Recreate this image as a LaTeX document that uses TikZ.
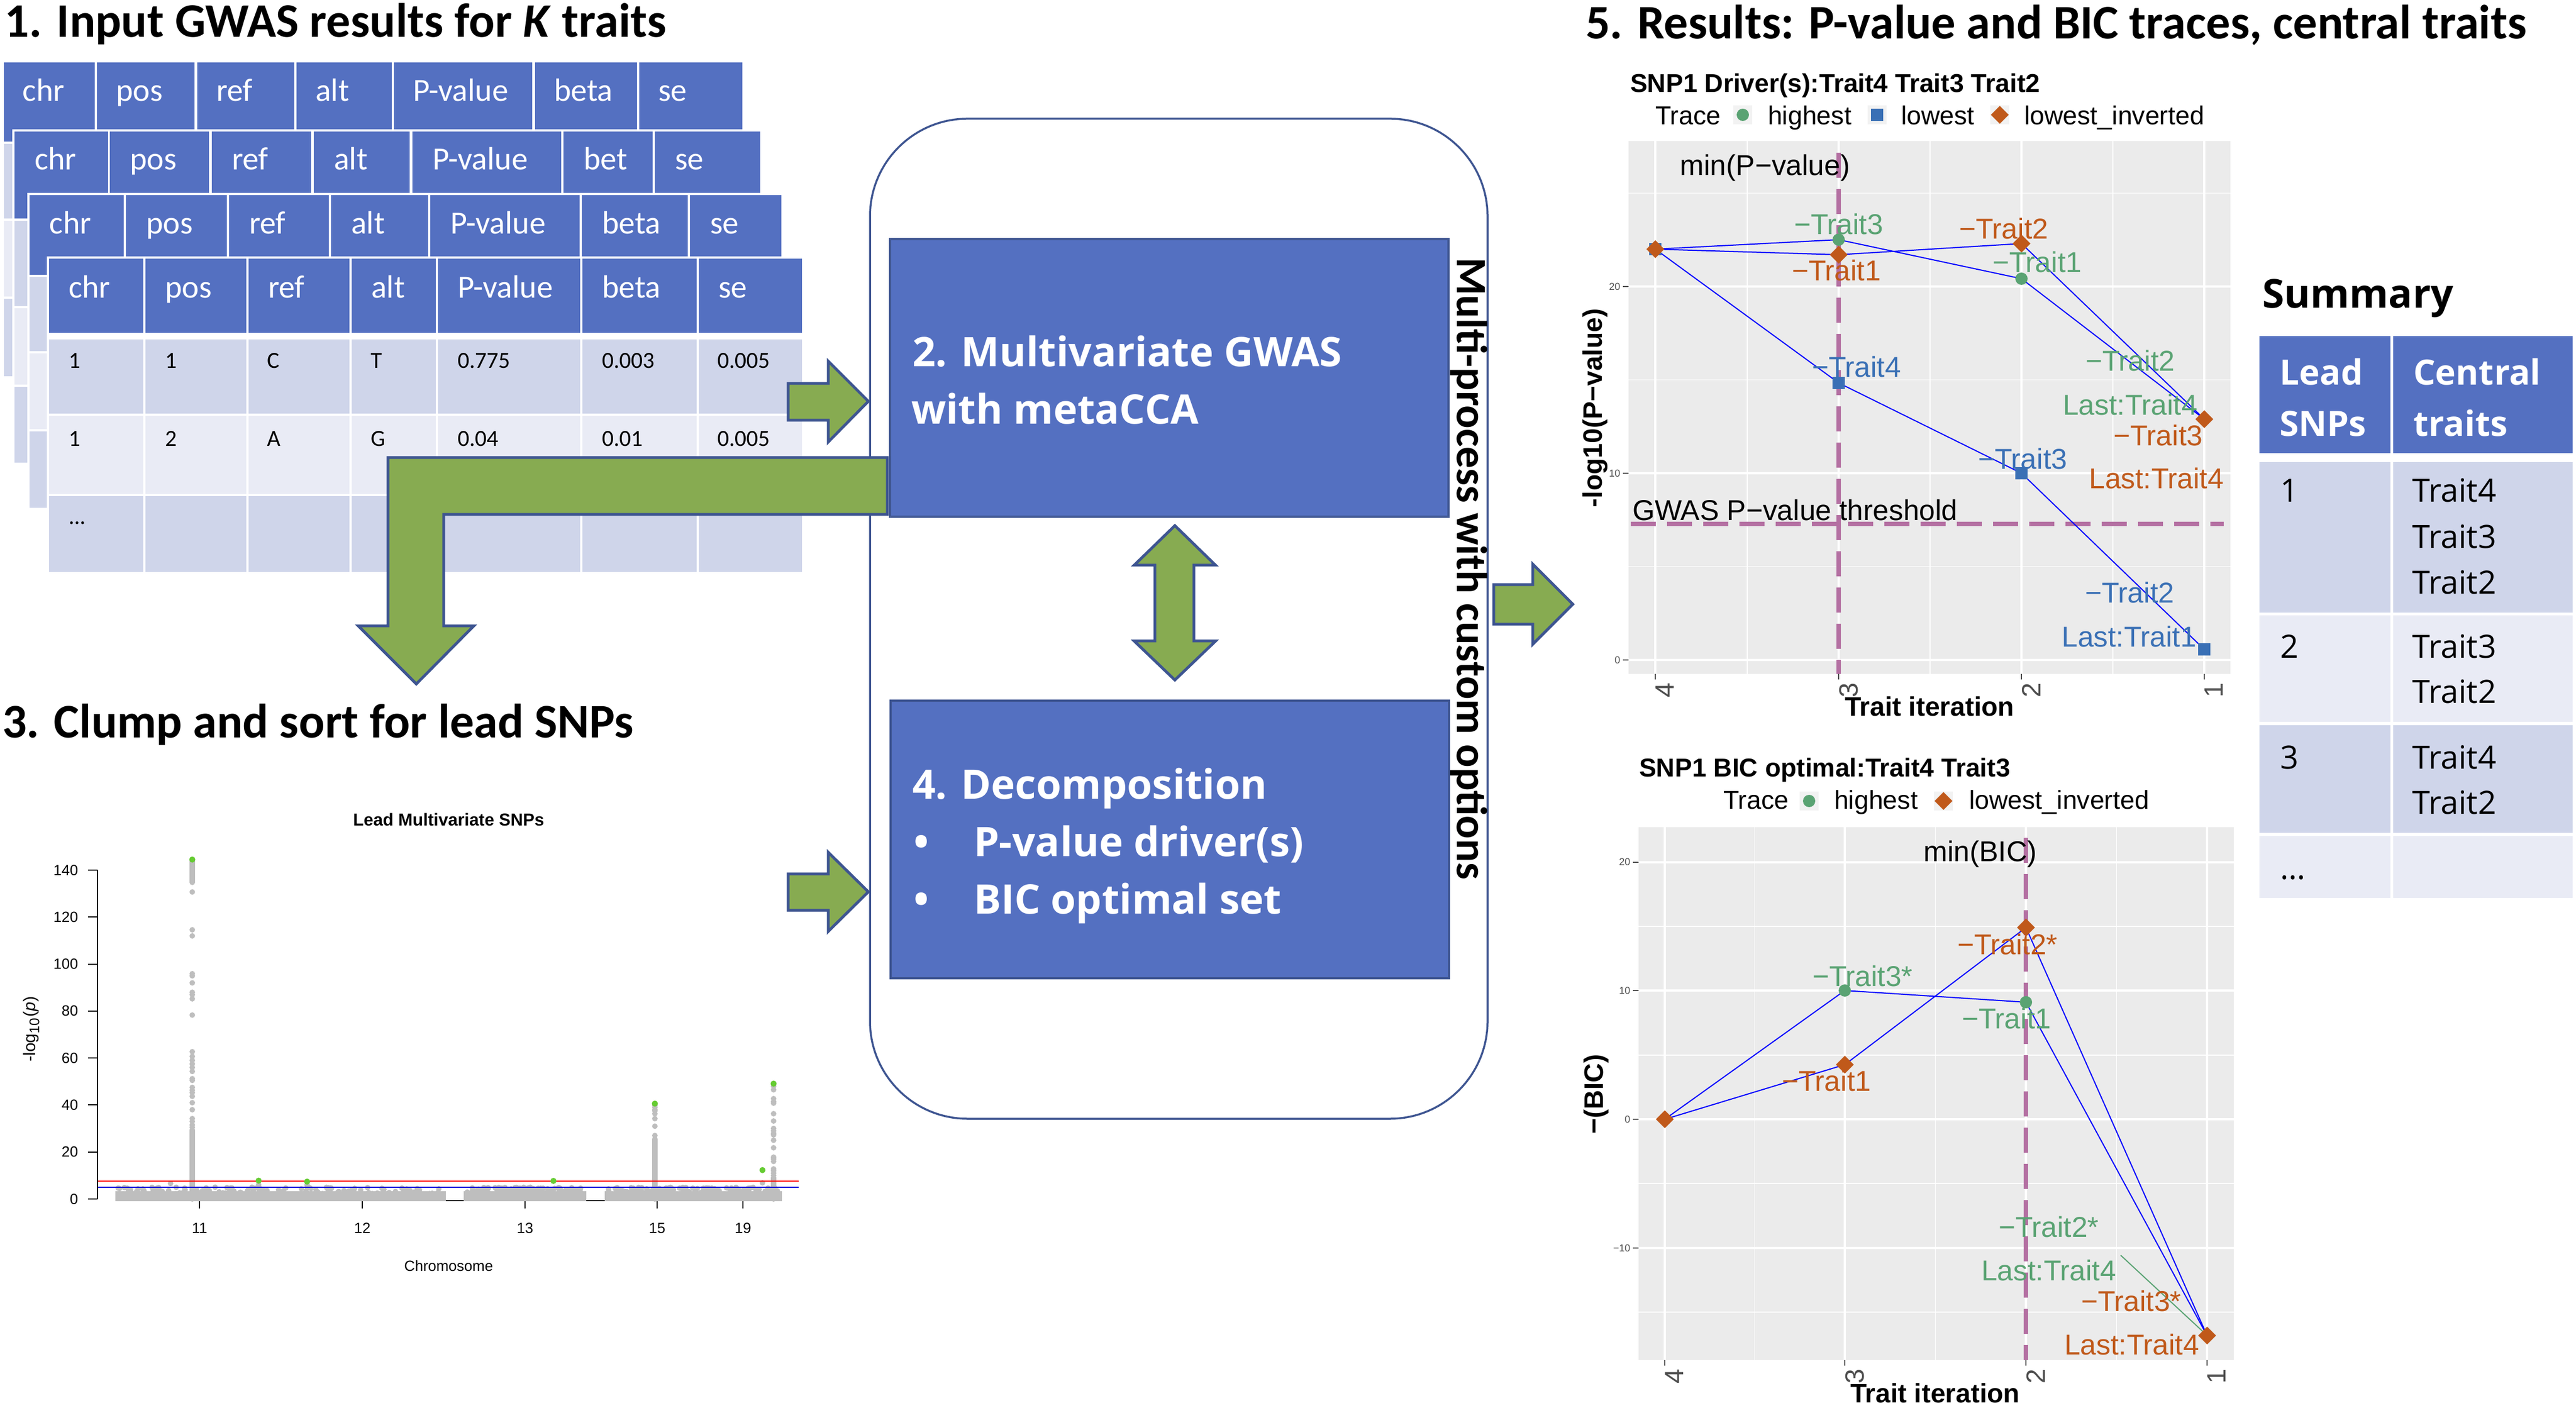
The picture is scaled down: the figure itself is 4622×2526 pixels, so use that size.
\documentclass[tikz,border=0pt]{standalone}
\usepackage{fontspec}
\setmainfont{Carlito}
\newfontfamily\seg{Open Sans}
\newfontfamily\hel{Liberation Sans}
\definecolor{hdr}{HTML}{5470C1}
\definecolor{drk}{HTML}{CFD5EA}
\definecolor{lgt}{HTML}{E9EBF5}
\definecolor{grn}{HTML}{87AB51}
\definecolor{bord}{HTML}{3E5591}
\definecolor{tgreen}{HTML}{5AA373}
\definecolor{tblue}{HTML}{3A70B5}
\definecolor{torange}{HTML}{C0591A}
\definecolor{dpurple}{HTML}{B470A2}
\definecolor{pgray}{HTML}{EBEBEB}
\definecolor{kgray}{HTML}{F2F2F2}
\definecolor{mgray}{HTML}{BEBEBE}
\definecolor{mgreen}{HTML}{66CC33}
\definecolor{tgray}{HTML}{4D4D4D}
\newcommand\mcirc[2]{\fill[tgreen] (#1,#2) circle[radius=11];}
\newcommand\msq[2]{\fill[tblue] (#1-11,#2-11) rectangle (#1+11,#2+11);}
\newcommand\mdia[2]{\fill[torange] (#1,#2-16) -- (#1+16,#2) -- (#1,#2+16) -- (#1-16,#2) -- cycle;}
\tikzset{
 ttl/.style={anchor=base west, inner sep=0, font=\bfseries\fontsize{17.3}{20}\selectfont},
 hdrtxt/.style={anchor=base west, inner sep=0, text=white, font=\fontsize{11.6}{13}\selectfont},
 bodytxt/.style={anchor=base west, inner sep=0, font=\fontsize{8.3}{10}\selectfont},
 boxtxt/.style={anchor=base west, inner sep=0, text=white, font=\seg\bfseries\fontsize{14.6}{17}\selectfont},
 garrow/.style={fill=grn, draw=bord, line width=1pt, line join=miter},
 mtick/.style={anchor=base east, inner sep=0, font=\hel\fontsize{5.3}{6}\selectfont},
 mlab/.style={anchor=base, inner sep=0, font=\hel\fontsize{5.3}{6}\selectfont},
 ann/.style={anchor=base, inner sep=0, font=\hel\fontsize{10.3}{12}\selectfont},
 legtxt/.style={anchor=base west, inner sep=0, font=\hel\fontsize{9.3}{11}\selectfont},
 ptitle/.style={anchor=base west, inner sep=0, font=\hel\bfseries\fontsize{9.25}{11}\selectfont},
 axtitle/.style={inner sep=0, font=\hel\bfseries\fontsize{9.6}{11}\selectfont},
 xtk/.style={rotate=90, anchor=north east, inner sep=0, text=tgray, font=\hel\fontsize{9.5}{11}\selectfont},
 ytk/.style={anchor=east, inner sep=0, text=tgray, font=\hel\fontsize{3.6}{4}\selectfont},
 tline/.style={draw=blue, line width=0.4pt},
 grmaj/.style={draw=white, line width=0.8pt},
 grmin/.style={draw=white, line width=0.35pt},
 dsh/.style={draw=dpurple, line width=1.6pt, dash pattern=on 9pt off 4pt},
 sumhdr/.style={anchor=base west, inner sep=0, text=white, font=\seg\bfseries\fontsize{12.5}{15}\selectfont},
 sumtxt/.style={anchor=base west, inner sep=0, font=\seg\fontsize{11.5}{14}\selectfont},
}
\begin{document}
\begin{tikzpicture}[x=0.2pt,y=-0.2pt]
\useasboundingbox (0,0) rectangle (4622,2526);
\fill[white] (0,0) rectangle (4622,2526);

% ---------- titles ----------
\node[ttl] (t1) at (8,67) {1. Input GWAS results for \textit{K} traits};
\node[ttl] (t3) at (3,1324) {3. Clump and sort for lead SNPs};
\node[ttl] (t5) at (2844,70) {5. Results: P-value and BIC traces, central traits};

% ---------- stacked tables ----------
% table 1
\fill[white] (3,108) rectangle (1336,679);
\foreach \l/\r/\t [count=\i] in {7/170/chr,174/349/pos,354/528/ref,532/703/alt,707/955/P-value,960/1143/beta,1147/1332/se}{
  \fill[hdr] (\l,112) rectangle (\r,254);
  \fill[drk] (\l,258) rectangle (\r,392);
  \fill[lgt] (\l,396) rectangle (\r,532);
  \fill[drk] (\l,536) rectangle (\r,675);
  \node[hdrtxt] (a\i) at (\l+33,182) {\t};
}
% table 2
\fill[white] (22,232) rectangle (1368,834);
\foreach \l/\r/\t [count=\i] in {26/194/chr,197/375/pos,380/558/ref,563/735/alt,740/1007/P-value,1011/1171/bet,1175/1364/se}{
  \fill[hdr] (\l,236) rectangle (\r,392);
  \fill[drk] (\l,396) rectangle (\r,549);
  \fill[lgt] (\l,553) rectangle (\r,690);
  \fill[drk] (\l,694) rectangle (\r,830);
  \node[hdrtxt] (b\i) at (\l+35,305) {\t};
}
% table 3
\fill[white] (49,346) rectangle (1406,915);
\foreach \l/\r/\t [count=\i] in {53/222/chr,226/407/pos,411/590/ref,594/768/alt,772/1040/P-value,1044/1234/beta,1238/1402/se}{
  \fill[hdr] (\l,350) rectangle (\r,493);
  \fill[drk] (\l,497) rectangle (\r,630);
  \fill[lgt] (\l,634) rectangle (\r,770);
  \fill[drk] (\l,774) rectangle (\r,911);
  \node[hdrtxt] (c\i) at (\l+35,420) {\t};
}
% table 4 (front)
\fill[white] (84,460) rectangle (1443,1030);
\foreach \l/\r/\t [count=\i] in {88/257/chr,261/442/pos,446/627/ref,631/782/alt,786/1041/P-value,1045/1250/beta,1254/1439/se}{
  \fill[hdr] (\l,464) rectangle (\r,597);
  \fill[drk] (\l,609) rectangle (\r,742);
  \fill[lgt] (\l,746) rectangle (\r,886);
  \fill[drk] (\l,890) rectangle (\r,1026);
  \node[hdrtxt] (d\i) at (\l+34,535) {\t};
}
\foreach \x/\a/\b [count=\i] in {122/1/1,295/1/2,478/C/A,664/T/G,820/0.775/0.04,1079/0.003/0.01,1286/0.005/0.005}{
  \node[bodytxt] (ra\i) at (\x,661) {\a};
  \node[bodytxt] (rb\i) at (\x,801) {\b};
}
\node[bodytxt] (rc1) at (122,941) {...};

% ---------- central process box ----------
\node[draw=bord, line width=0.7pt, rounded corners=35pt, minimum width=221.6pt, minimum height=358.8pt, inner sep=0] (outer) at (2115,1110) {};
\node[draw=bord, fill=hdr, line width=0.8pt, minimum width=200.4pt, minimum height=99.6pt, inner sep=0] (b2) at (2098,678) {};
\node[draw=bord, fill=hdr, line width=0.8pt, minimum width=200.4pt, minimum height=99.6pt, inner sep=0] (b4) at (2099,1506) {};
\node[boxtxt] (b2a) at (1636,658) {2. Multivariate GWAS};
\node[boxtxt] (b2b) at (1634,761) {with metaCCA};
\node[boxtxt] (b4a) at (1636,1434) {4. Decomposition};
\node[boxtxt] (b4b) at (1638,1536) {•};
\node[boxtxt] (b4c) at (1746,1536) {P-value driver(s)};
\node[boxtxt] (b4d) at (1638,1639) {•};
\node[boxtxt] (b4e) at (1746,1639) {BIC optimal set};
\node[rotate=-90, inner sep=0, font=\bfseries\fontsize{15.5}{18}\selectfont] (mp) at (2636,1020) {Multi-process with custom options};

% ---------- green block arrows ----------
\filldraw[garrow] (1414,688) -- (1486,688) -- (1486,648) -- (1558,720) -- (1486,793) -- (1486,754) -- (1414,754) -- cycle;
\filldraw[garrow] (1414,1568) -- (1486,1568) -- (1486,1529) -- (1558,1600) -- (1486,1671) -- (1486,1633) -- (1414,1633) -- cycle;
\filldraw[garrow] (2680,1049) -- (2750,1049) -- (2750,1012) -- (2822,1084) -- (2750,1156) -- (2750,1120) -- (2680,1120) -- cycle;
\filldraw[garrow] (2108,943) -- (2181,1014) -- (2142,1014) -- (2142,1150) -- (2181,1150) -- (2108,1220) -- (2035,1150) -- (2072,1150) -- (2072,1014) -- (2035,1014) -- cycle;
\filldraw[garrow] (1592,821) -- (696,821) -- (696,1123) -- (643,1123) -- (747,1227) -- (850,1123) -- (796,1123) -- (796,923) -- (1592,923) -- cycle;

% ---------- Manhattan plot ----------
\node[anchor=base, inner sep=0, font=\hel\bfseries\fontsize{6.2}{7}\selectfont] (mtitle) at (805,1482) {Lead Multivariate SNPs};
\pgfmathsetseed{7}
\foreach \a/\b in {207/800,832/1052,1085/1403}{
  \fill[mgray] (\a,2137) rectangle (\b,2155);
  \foreach \i in {1,...,130}{
    \pgfmathsetmacro\xx{\a+5+rnd*(\b-\a-10)}
    \pgfmathsetmacro\yy{2130+rnd*12}
    \fill[mgray] (\xx,\yy) circle[radius=5];
  }
}
\draw[black, line width=0.4pt] (800,2154) -- (832,2154);
\draw[black, line width=0.4pt] (1052,2154) -- (1085,2154);
% peaks
\draw[mgray, line width=2pt, line cap=round] (345,2151) -- (345,{2151-4.214*29.4});
\draw[mgray, line width=2pt, line cap=round] (345,{2151-4.214*134.8}) -- (345,{2151-4.214*143.8});
\foreach \v in {130.7,114.6,112,95.9,95,92,88,87,85.2,78.3,62.7,60.7,59,57.5,56,54.3,51.2,50.5,47.5,46.3,45.3,43.7,41,38,34.2,33,31.5,30.5}
  \fill[mgray] (345,{2151-4.214*\v}) circle[radius=5];
\draw[mgray, line width=2pt, line cap=round] (1175,2151) -- (1175,{2151-4.214*25.5});
\foreach \v in {39.8,39,38,37.5,36.3,34.2,31,27}
  \fill[mgray] (1175,{2151-4.214*\v}) circle[radius=5];
\draw[mgray, line width=2pt, line cap=round] (1388,2151) -- (1388,{2151-4.214*9});
\foreach \v in {48,46.5,42.7,41.5,40.8,36.3,33.2,30,29,28,27.3,25,21.8,17.8,17,16,12.8,12,11,10}
  \fill[mgray] (1388,{2151-4.214*\v}) circle[radius=5];
\foreach \x/\v in {306/6.6,464/5.2,464/6,551/5,551/6,1368/6.9,386/5,452/5}
  \fill[mgray] (\x,{2151-4.214*\v}) circle[radius=5];
\draw[red, line width=0.4pt] (175,2119) -- (1433,2119);
\draw[blue!85!black, line width=0.4pt] (175,2130) -- (1433,2130);
\foreach \x/\v in {345/144.5,1175/40.6,1388/49.1,464/7.8,551/7.4,993/7.7,1368/12.3}
  \fill[mgreen] (\x,{2151-4.214*\v}) circle[radius=5.5];
% axes
\draw[line width=0.4pt] (175,1561) -- (175,2151);
\foreach \v in {0,20,40,60,80,100,120,140}{
  \draw[line width=0.4pt] (158,{2151-4.214*\v}) -- (175,{2151-4.214*\v});
  \node[mtick] (my\v) at (141,{2160-4.214*\v}) {\v};
}
\foreach \x/\l in {358/11,650/12,942/13,1179/15,1333/19}{
  \draw[line width=0.4pt] (\x,2155) -- (\x,2168);
  \node[mlab] (mx\l) at (\x,2212) {\l};
}
\node[mlab] (mxl) at (805,2280) {Chromosome};
\node[rotate=90, inner sep=0, font=\hel\fontsize{6}{7}\selectfont] (myl) at (56,1846) {-log\textsubscript{10}(\textit{p})};

% ---------- top ggplot ----------
\node[ptitle] (pt1) at (2924,166) {SNP1 Driver(s):Trait4 Trait3 Trait2};
\node[legtxt] (lt1) at (2969,224) {Trace};
\fill[kgray] (3110,189) rectangle (3144,223); \mcirc{3127}{206}
\node[legtxt] (lt2) at (3171,224) {highest};
\fill[kgray] (3351,189) rectangle (3385,223); \msq{3368}{206}
\node[legtxt] (lt3) at (3410,224) {lowest};
\fill[kgray] (3571,189) rectangle (3605,223); \mdia{3588}{206}
\node[legtxt] (lt4) at (3631,224) {lowest\_inverted};
\fill[pgray] (2922,253) rectangle (4002,1209);
\foreach \x in {3135,3463,3791} \draw[grmin] (\x,253) -- (\x,1209);
\foreach \y in {1016.5,681.5,346.5} \draw[grmin] (2922,\y) -- (4002,\y);
\foreach \x in {2970,3299,3627,3955} \draw[grmaj] (\x,253) -- (\x,1209);
\foreach \y in {1184,849,514} \draw[grmaj] (2922,\y) -- (4002,\y);
\draw[dsh] (3299,274) -- (3299,1209);
\draw[dsh] (2926,940) -- (3990,940);
\draw[tline] (2970,447) -- (3299,430) -- (3627,500) -- (3955,752);
\draw[tline] (2970,447) -- (3299,687) -- (3627,849) -- (3955,1165);
\draw[tline] (2970,447) -- (3299,457) -- (3627,437) -- (3955,752);
\msq{2970}{447} \mcirc{2970}{447} \mdia{2970}{447}
\mcirc{3299}{430} \mcirc{3627}{500} \mcirc{3955}{752}
\msq{3299}{687} \msq{3627}{849} \msq{3955}{1165}
\mdia{3299}{457} \mdia{3627}{437} \mdia{3955}{752}
\node[ann, text=tgreen] (ga1) at (3299,421) {−Trait3};
\node[ann, text=tgreen] (ga2) at (3655,489) {−Trait1};
\node[ann, text=tgreen] (ga3) at (3822,666) {−Trait2};
\node[ann, text=tgreen] (ga4) at (3822,745) {Last:Trait4};
\node[ann, text=torange] (oa1) at (3295,504) {−Trait1};
\node[ann, text=torange] (oa2) at (3595,429) {−Trait2};
\node[ann, text=torange] (oa3) at (3872,800) {−Trait3};
\node[ann, text=torange] (oa4) at (3869,877) {Last:Trait4};
\node[ann, text=tblue] (ba1) at (3331,677) {−Trait4};
\node[ann, text=tblue] (ba2) at (3629,842) {−Trait3};
\node[ann, text=tblue] (ba3) at (3821,1082) {−Trait2};
\node[ann, text=tblue] (ba4) at (3820,1161) {Last:Trait1};
\node[ann] (minp) at (3167,315) {min(P−value)};
\node[ann, anchor=base west] (thr) at (2928,934) {GWAS P−value threshold};
\foreach \y/\l in {1184/0,849/10,514/20}{
  \draw[tgray, line width=0.4pt] (2912,\y) -- (2922,\y);
  \node[ytk] (ty\l) at (2908,\y) {\l};
}
\foreach \x/\l in {2970/4,3299/3,3627/2,3955/1}{
  \draw[tgray, line width=0.4pt] (\x,1209) -- (\x,1219);
  \node[xtk] (tx\l) at (\x,1224) {\l};
}
\node[axtitle, rotate=90] (tyl) at (2862,732) {-log10(P−value)};
\node[axtitle, anchor=base] (txl) at (3462,1285) {Trait iteration};

% ---------- bottom ggplot ----------
\node[ptitle] (pt2) at (2940,1394) {SNP1 BIC optimal:Trait4 Trait3};
\node[legtxt] (lb1) at (3091,1452) {Trace};
\fill[kgray] (3229,1420) rectangle (3263,1454); \mcirc{3246}{1437}
\node[legtxt] (lb2) at (3290,1452) {highest};
\fill[kgray] (3470,1420) rectangle (3504,1454); \mdia{3487}{1437}
\node[legtxt] (lb3) at (3532,1452) {lowest\_inverted};
\fill[pgray] (2940,1484) rectangle (4008,2440);
\foreach \x in {3148.5,3472.5,3797.5} \draw[grmin] (\x,1484) -- (\x,2440);
\foreach \y in {1662,1892.7,2123,2354} \draw[grmin] (2940,\y) -- (4008,\y);
\foreach \x in {2987,3310,3635,3960} \draw[grmaj] (\x,1484) -- (\x,2440);
\foreach \y in {1546.6,1777,2008,2239} \draw[grmaj] (2940,\y) -- (4008,\y);
\draw[dsh] (3635,1503) -- (3635,2440);
\draw[tline] (2987,2008) -- (3310,1777) -- (3635,1798) -- (3960,2396);
\draw[tline] (2987,2008) -- (3310,1910) -- (3635,1664) -- (3960,2396);
\draw[tgreen, line width=0.4pt] (3805,2252) -- (3957,2393);
\mcirc{2987}{2008} \mdia{2987}{2008}
\mcirc{3310}{1777} \mcirc{3635}{1798} \mcirc{3960}{2396}
\mdia{3310}{1910} \mdia{3635}{1664} \mdia{3960}{2396}
\node[ann, text=tgreen] (gb1) at (3342,1769) {−Trait3*};
\node[ann, text=tgreen] (gb2) at (3600,1845) {−Trait1};
\node[ann, text=tgreen] (gb3) at (3676,2219) {−Trait2*};
\node[ann, text=tgreen] (gb4) at (3676,2297) {Last:Trait4};
\node[ann, text=torange] (ob1) at (3602,1712) {−Trait2*};
\node[ann, text=torange] (ob2) at (3277,1957) {−Trait1};
\node[ann, text=torange] (ob3) at (3824,2352) {−Trait3*};
\node[ann, text=torange] (ob4) at (3825,2430) {Last:Trait4};
\node[ann] (minb) at (3553,1546) {min(BIC)};
\foreach \y/\l [count=\i] in {1546.6/20,1777/10,2008/0,2239/−10}{
  \draw[tgray, line width=0.4pt] (2930,\y) -- (2940,\y);
  \node[ytk] (by\i) at (2926,\y) {\l};
}
\foreach \x/\l in {2987/4,3310/3,3635/2,3960/1}{
  \draw[tgray, line width=0.4pt] (\x,2440) -- (\x,2450);
  \node[xtk] (bx\l) at (\x,2455) {\l};
}
\node[axtitle, rotate=90] (byl) at (2864,1963) {−(BIC)};
\node[axtitle, anchor=base] (bxl) at (3472,2516) {Trait iteration};

% ---------- summary table ----------
\node[anchor=base west, inner sep=0, font=\seg\bfseries\fontsize{14.3}{17}\selectfont] (sum) at (4058,553) {Summary};
\fill[hdr] (4054,603) rectangle (4289,813);
\fill[hdr] (4294,603) rectangle (4616,813);
\fill[drk] (4054,829) rectangle (4289,1099); \fill[drk] (4294,829) rectangle (4616,1099);
\fill[lgt] (4054,1104) rectangle (4289,1295); \fill[lgt] (4294,1104) rectangle (4616,1295);
\fill[drk] (4054,1301) rectangle (4289,1494); \fill[drk] (4294,1301) rectangle (4616,1494);
\fill[lgt] (4054,1500) rectangle (4289,1611); \fill[lgt] (4294,1500) rectangle (4616,1611);
\node[sumhdr] (sh1) at (4089,691) {Lead};
\node[sumhdr] (sh2) at (4089,783) {SNPs};
\node[sumhdr] (sh3) at (4329,691) {Central};
\node[sumhdr] (sh4) at (4329,783) {traits};
\node[sumtxt] (s1) at (4090,901) {1};
\node[sumtxt] (s1a) at (4327,901) {Trait4};
\node[sumtxt] (s1b) at (4327,984) {Trait3};
\node[sumtxt] (s1c) at (4327,1066) {Trait2};
\node[sumtxt] (s2) at (4090,1181) {2};
\node[sumtxt] (s2a) at (4327,1181) {Trait3};
\node[sumtxt] (s2b) at (4327,1262) {Trait2};
\node[sumtxt] (s3) at (4090,1380) {3};
\node[sumtxt] (s3a) at (4327,1380) {Trait4};
\node[sumtxt] (s3b) at (4327,1461) {Trait2};
\node[sumtxt] (s4) at (4090,1578) {...};
\end{tikzpicture}
\end{document}
